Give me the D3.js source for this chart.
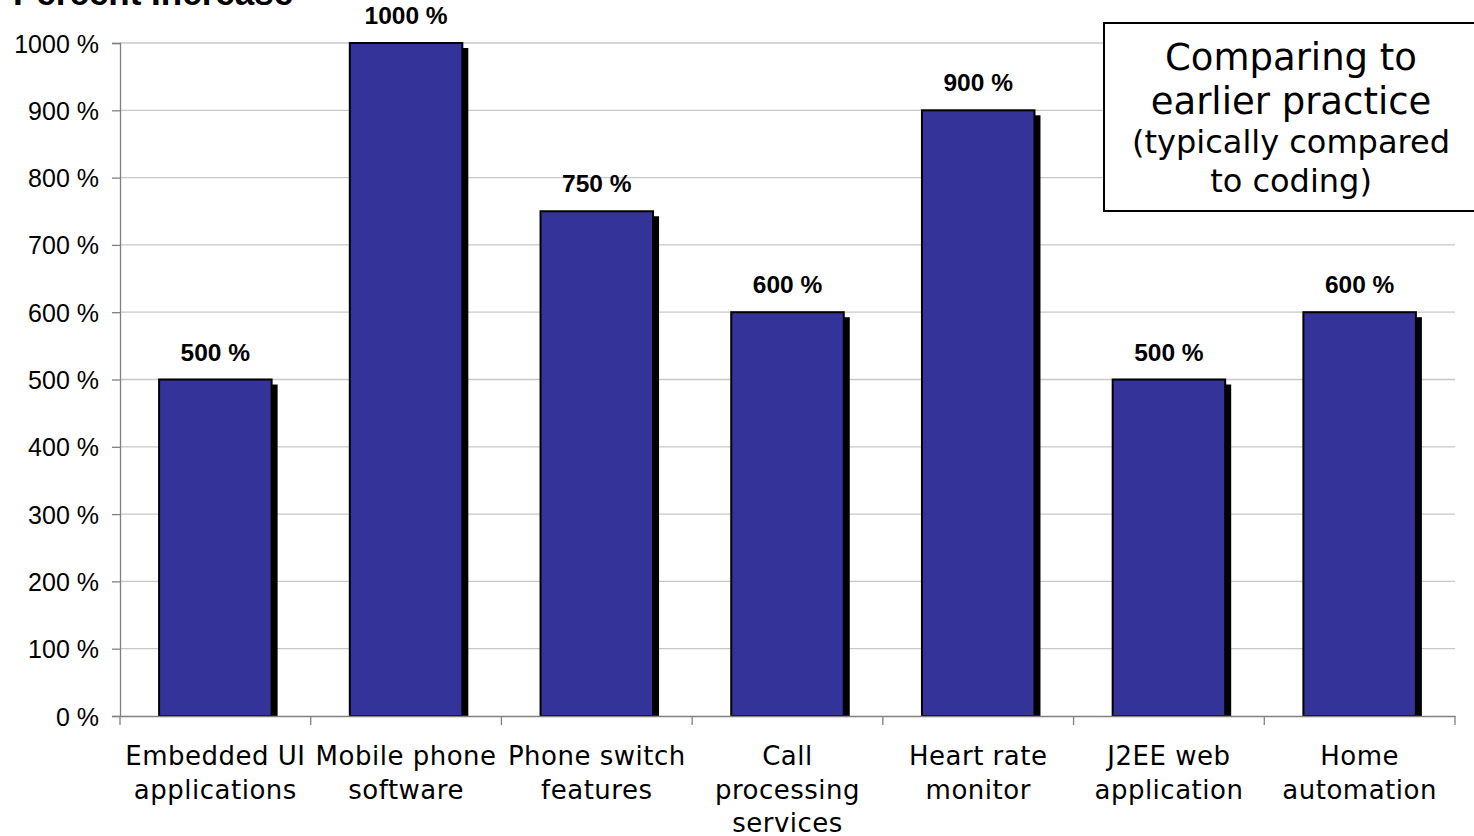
<!DOCTYPE html>
<html><head><meta charset="utf-8">
<script src="https://cdn.jsdelivr.net/npm/d3@7"></script>
<style>body{margin:0;background:#fff}svg{display:block}</style>
</head><body>
<script>
const categories = [["Embedded UI","applications"],["Mobile phone","software"],["Phone switch","features"],["Call","processing","services"],["Heart rate","monitor"],["J2EE web","application"],["Home","automation"]];
const values = [500,1000,750,600,900,500,600];
const yTicks = [0,100,200,300,400,500,600,700,800,900,1000];
const boxLines = ["Comparing to","earlier practice","(typically compared","to coding)"];

const W=1474,H=836;
const svg=d3.select("body").append("svg").attr("width",W).attr("height",H);
const x=d3.scaleBand().domain(d3.range(values.length)).range([120,1455]).paddingInner(0.41).paddingOuter(0.205);
const xs=d3.scaleBand().domain(d3.range(values.length)).range([120,1455]);
const y=d3.scaleLinear().domain([0,1000]).range([716,43]);

// gridlines
svg.append("g").selectAll("line").data(yTicks.slice(1)).join("line")
 .attr("x1",120).attr("x2",1455).attr("y1",d=>y(d)).attr("y2",d=>y(d))
 .attr("stroke","#c8c8c8").attr("stroke-width",1.3);

// y axis
const ya=svg.append("g").attr("transform","translate(120,0)")
 .call(d3.axisLeft(y).tickValues(yTicks).tickSize(8).tickFormat(d=>d+" %"));
ya.select(".domain").attr("stroke","#808080").attr("stroke-width",1.3);
ya.selectAll(".tick line").attr("stroke","#808080").attr("stroke-width",1.3);
ya.selectAll("text").attr("font-family","Liberation Sans, Arial").attr("font-size",25).attr("fill","#000").attr("x",-21).attr("dy","0.36em");

// bars shadows
const g=svg.append("g");
g.selectAll("rect.sh").data(values).join("rect").attr("class","sh")
 .attr("x",(d,i)=>x(i)+5).attr("y",d=>y(d)+5).attr("width",x.bandwidth()+1).attr("height",d=>y(0)-y(d)-5).attr("fill","#000");
g.selectAll("rect.b").data(values).join("rect").attr("class","b")
 .attr("x",(d,i)=>x(i)).attr("y",d=>y(d)).attr("width",x.bandwidth()).attr("height",d=>y(0)-y(d))
 .attr("fill","#333399").attr("stroke","#000").attr("stroke-width",2);

// value labels
g.selectAll("text.v").data(values).join("text").attr("class","v")
 .attr("x",(d,i)=>x(i)+x.bandwidth()/2).attr("y",d=>y(d)-19)
 .attr("text-anchor","middle").attr("font-family","Liberation Sans, Arial").attr("font-weight","bold").attr("font-size",24.5)
 .text(d=>d+" %");

// x axis
const xa=svg.append("g").attr("transform","translate(0,716)")
 .call(d3.axisBottom(xs).tickSize(0).tickFormat(""));
xa.select(".domain").attr("stroke","#808080").attr("stroke-width",1.5);
xa.selectAll(".tick").remove();
svg.append("g").selectAll("line").data(d3.range(values.length+1)).join("line")
 .attr("x1",i=>120+i*xs.step()).attr("x2",i=>120+i*xs.step()).attr("y1",716).attr("y2",725)
 .attr("stroke","#808080").attr("stroke-width",1.3);

// category labels
const cl=svg.append("g").selectAll("text").data(categories).join("text")
 .attr("text-anchor","middle").attr("font-family","DejaVu Sans, Verdana").attr("font-size",26).attr("letter-spacing",0.5).attr("fill","#000");
cl.each(function(lines,i){
  const t=d3.select(this);
  lines.forEach((l,j)=>t.append("tspan").attr("x",xs(i)+xs.bandwidth()/2).attr("y",765+j*33.5).text(l));
});

// title
svg.append("text").attr("x",13).attr("y",5).attr("font-family","Liberation Sans, Arial").attr("font-weight","bold").attr("font-size",35).text("Percent Increase");

// box
svg.append("rect").attr("x",1104).attr("y",23).attr("width",380).attr("height",188).attr("fill","#fff").attr("stroke","#000").attr("stroke-width",2);
const sizes=[37,37,32,32], ys=[70,114,153,192];
svg.append("g").selectAll("text").data(boxLines).join("text")
 .attr("x",1291).attr("y",(d,i)=>ys[i]).attr("text-anchor","middle").attr("font-family","DejaVu Sans, Verdana")
 .attr("font-size",(d,i)=>sizes[i]).text(d=>d);
</script>
</body></html>
